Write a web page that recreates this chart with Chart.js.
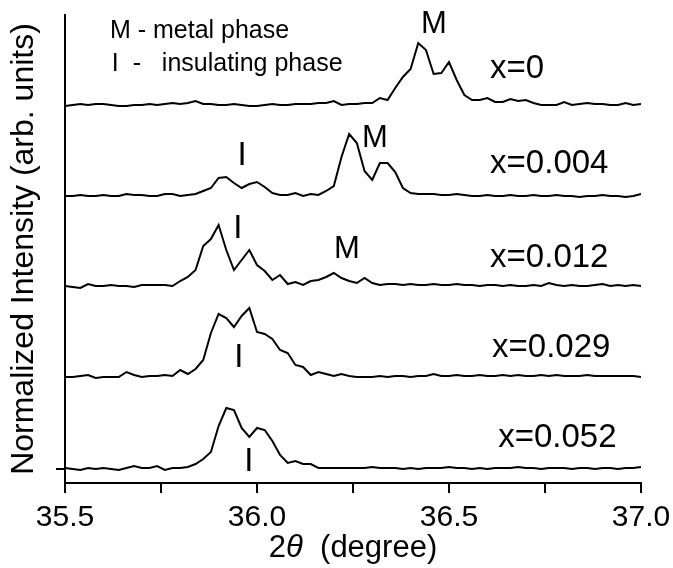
<!DOCTYPE html>
<html>
<head>
<meta charset="utf-8">
<script src="https://cdn.jsdelivr.net/npm/chart.js@4.4.1/dist/chart.umd.min.js"></script>
<style>
  html, body { margin: 0; padding: 0; background: #fff; }
  #wrap { width: 673px; height: 568px; }
</style>
</head>
<body>
<div id="wrap"><canvas id="xrd" width="673" height="568"></canvas></div>
<script>
// 2theta grid (degree), 0.02 step
const twoTheta = [
  35.50, 35.52, 35.54, 35.56, 35.58, 35.60, 35.62, 35.64, 35.66, 35.68,
  35.70, 35.72, 35.74, 35.76, 35.78, 35.80, 35.82, 35.84, 35.86, 35.88,
  35.90, 35.92, 35.94, 35.96, 35.98, 36.00, 36.02, 36.04, 36.06, 36.08,
  36.10, 36.12, 36.14, 36.16, 36.18, 36.20, 36.22, 36.24, 36.26, 36.28,
  36.30, 36.32, 36.34, 36.36, 36.38, 36.40, 36.42, 36.44, 36.46, 36.48,
  36.50, 36.52, 36.54, 36.56, 36.58, 36.60, 36.62, 36.64, 36.66, 36.68,
  36.70, 36.72, 36.74, 36.76, 36.78, 36.80, 36.82, 36.84, 36.86, 36.88,
  36.90, 36.92, 36.94, 36.96, 36.98, 37.00
];

// normalized intensities
const int_x0 = [
  -0.01, 0, 0.01, 0, 0.01, 0.01, 0, -0.01, -0.01, 0,
  0, 0.01, 0, 0.01, 0.02, 0.01, 0.02, 0.04, 0.01, 0.01,
  0, 0, 0.01, 0, -0.01, -0.01, 0, 0.01, 0, 0,
  0.01, 0.01, 0.01, 0.02, 0.02, 0.04, 0, 0.01, 0.01, 0.02,
  0.02, 0.07, 0.05, 0.17, 0.28, 0.36, 0.62, 0.55, 0.31, 0.32,
  0.43, 0.25, 0.10, 0.05, 0.05, 0.07, 0.03, 0.03, 0.06, 0.04,
  0.05, 0.02, 0, 0, 0, 0.03, 0, 0.01, 0.02, 0.01,
  0.01, 0, 0, 0.02, 0, 0.01
];
const int_x004 = [
  0, 0, 0.01, 0, 0, 0.01, 0, 0, 0.02, 0.01,
  0.01, 0, 0, 0.02, 0.02, 0, 0.01, 0.02, 0.05, 0.08,
  0.18, 0.19, 0.13, 0.08, 0.12, 0.14, 0.09, 0.03, 0.01, 0.01,
  0.03, 0, 0.02, 0.01, 0.05, 0.10, 0.39, 0.62, 0.53, 0.25,
  0.16, 0.33, 0.33, 0.24, 0.08, 0.03, 0.02, 0.02, 0.02, 0.01,
  0.01, 0.02, 0.01, 0, 0, 0.01, 0, 0, 0.01, 0,
  0, 0.01, 0, 0, 0.01, 0, 0, -0.01, 0, 0,
  0.01, 0, 0, -0.01, 0, 0.02
];
const int_x012 = [
  0, -0.01, -0.02, 0.02, 0, 0, 0.01, 0, 0, -0.01,
  0.01, 0.01, 0.01, 0.01, 0, 0.05, 0.09, 0.16, 0.40, 0.47,
  0.61, 0.36, 0.16, 0.26, 0.36, 0.21, 0.15, 0.06, 0.11, 0.02,
  0.04, 0.01, 0.05, 0.06, 0.09, 0.13, 0.08, 0.05, 0.03, 0.08,
  0.03, 0.01, 0.02, 0.02, 0.01, 0.02, 0.01, 0.01, 0.02, 0.01,
  0.01, 0.02, 0.01, 0.01, 0, 0.01, 0.01, 0, 0.01, 0,
  0, 0.01, 0, 0.03, 0.01, 0, 0.01, 0, 0, 0.01,
  0.02, 0, 0.01, 0, 0.01, 0
];
const int_x029 = [
  0, 0, 0.01, 0.02, -0.01, 0, 0, 0, 0.05, 0.02,
  0, 0.01, 0.01, 0.02, 0.01, 0.07, 0.03, 0.08, 0.17, 0.44,
  0.63, 0.59, 0.50, 0.61, 0.69, 0.45, 0.43, 0.38, 0.27, 0.24,
  0.12, 0.10, 0.02, 0.05, 0.03, 0.01, 0.03, 0.01, 0, 0,
  0, 0.01, 0, 0.01, 0.01, 0, 0.01, 0.01, 0.03, 0.01,
  0.01, 0.02, 0.01, 0.01, 0.02, 0.01, 0.01, 0.02, 0.01, 0.02,
  0.01, 0.01, 0.02, 0.01, 0.02, 0.01, 0.01, 0.01, 0.02, 0.01,
  0.01, 0.01, 0.01, 0.01, 0.01, 0
];
const int_x052 = [
  0.01, 0, -0.01, 0.01, 0, 0.01, 0, -0.01, 0.01, 0.03,
  0.01, 0.01, 0.03, -0.01, 0.01, 0.01, 0.02, 0.05, 0.10, 0.17,
  0.43, 0.61, 0.59, 0.41, 0.32, 0.41, 0.39, 0.28, 0.14, 0.06,
  0.08, 0.05, 0.05, 0.01, 0.01, 0.01, 0.01, 0.01, 0.01, 0.01,
  0.02, 0.01, 0.01, 0.01, 0, 0.01, 0, 0.01, 0.01, 0.01,
  0.02, 0.01, 0.01, 0, 0.01, 0, 0.01, 0.01, 0.01, 0.02,
  0.01, 0.01, 0, 0.01, 0.01, 0.01, 0, 0.01, 0.01, 0,
  0.01, 0.01, 0, 0.01, 0.01, 0.02
];

const series = [int_x0, int_x004, int_x012, int_x029, int_x052];
const seriesNames = ['x=0', 'x=0.004', 'x=0.012', 'x=0.029', 'x=0.052'];
// vertical stacking of the curves
const offsets = [3.64, 2.73, 1.83, 0.92, 0];

const FONT = '"Liberation Sans", Arial, Helvetica, sans-serif';

// text labels in data coordinates
const notes = [
  { text: 'M - metal phase', x: 35.617, y: 4.31, size: 25, align: 'left' },
  { text: 'I  -   insulating phase', x: 35.622, y: 3.98, size: 25, align: 'left' },
  { text: 'M', x: 36.461, y: 4.36, size: 31, align: 'center' },
  { text: 'I', x: 35.961, y: 3.04, size: 33, align: 'center' },
  { text: 'M', x: 36.307, y: 3.22, size: 31, align: 'center' },
  { text: 'I', x: 35.950, y: 2.31, size: 33, align: 'center' },
  { text: 'M', x: 36.234, y: 2.11, size: 31, align: 'center' },
  { text: 'I', x: 35.953, y: 1.02, size: 33, align: 'center' },
  { text: 'I', x: 35.979, y: -0.02, size: 33, align: 'center' },
  { text: seriesNames[0], x: 36.607, y: 3.91, size: 33, align: 'left' },
  { text: seriesNames[1], x: 36.607, y: 2.96, size: 33, align: 'left' },
  { text: seriesNames[2], x: 36.607, y: 2.02, size: 33, align: 'left' },
  { text: seriesNames[3], x: 36.612, y: 1.12, size: 33, align: 'left' },
  { text: seriesNames[4], x: 36.628, y: 0.22, size: 33, align: 'left' }
];

const notesPlugin = {
  id: 'notes',
  afterDraw(chart) {
    const ctx = chart.ctx;
    const xs = chart.scales.x, ys = chart.scales.y;
    ctx.save();
    ctx.fillStyle = '#000';
    ctx.textBaseline = 'alphabetic';
    notes.forEach(n => {
      ctx.font = n.size + 'px ' + FONT;
      ctx.textAlign = n.align;
      ctx.fillText(n.text, xs.getPixelForValue(n.x), ys.getPixelForValue(n.y));
    });

    // x axis title: 2θ (degree), theta in italic
    const parts = [['2', 'normal'], ['\u03B8', 'italic'], ['  (degree)', 'normal']];
    let total = 0;
    parts.forEach(p => {
      ctx.font = p[1] + ' 31px ' + FONT;
      total += ctx.measureText(p[0]).width;
    });
    let px = (chart.chartArea.left + chart.chartArea.right) / 2 - total / 2;
    const py = chart.height - 20;
    ctx.textAlign = 'left';
    ctx.textBaseline = 'middle';
    parts.forEach(p => {
      ctx.font = p[1] + ' 31px ' + FONT;
      ctx.fillText(p[0], px, py);
      px += ctx.measureText(p[0]).width;
    });
    ctx.restore();
  }
};

const datasets = series.map((vals, k) => ({
  label: seriesNames[k],
  data: twoTheta.map((t, i) => ({ x: t, y: vals[i] + offsets[k] })),
  borderColor: '#000',
  borderWidth: 2,
  pointRadius: 0,
  tension: 0,
  fill: false
}));

new Chart(document.getElementById('xrd'), {
  type: 'line',
  data: { datasets },
  options: {
    responsive: false,
    animation: false,
    devicePixelRatio: 1,
    layout: { padding: { top: 15, right: 32, left: 0, bottom: 0 } },
    plugins: { legend: { display: false }, tooltip: { enabled: false } },
    scales: {
      x: {
        type: 'linear',
        min: 35.5,
        max: 37.0,
        border: { color: '#000', width: 2 },
        grid: { drawOnChartArea: false, drawTicks: true, tickLength: 10, color: '#000', lineWidth: 2 },
        ticks: {
          stepSize: 0.25,
          autoSkip: false,
          maxRotation: 0,
          color: '#000',
          padding: 7,
          font: { family: FONT, size: 30 },
          callback: v => Math.abs(v * 2 - Math.round(v * 2)) < 1e-9 ? v.toFixed(1) : ''
        },
        afterFit: s => {
          s.height = 85;
          // let the "37.0" label hang into the right margin
          s.paddingLeft = 0;
          s.paddingRight = 0;
        }
      },
      y: {
        min: -0.14,
        max: 4.54,
        border: { color: '#000', width: 2 },
        grid: { drawOnChartArea: false, drawTicks: true, tickLength: 9, color: '#000', lineWidth: 2 },
        afterBuildTicks: s => { s.ticks = [{ value: 0 }]; },
        ticks: { callback: () => '', font: { size: 10 } },
        title: {
          display: true,
          text: 'Normalized Intensity (arb. units)',
          color: '#000',
          font: { family: FONT, size: 32 },
          padding: { top: 5, bottom: 0 }
        },
        afterFit: s => { s.width = 65; }
      }
    }
  },
  plugins: [notesPlugin]
});
</script>
</body>
</html>
